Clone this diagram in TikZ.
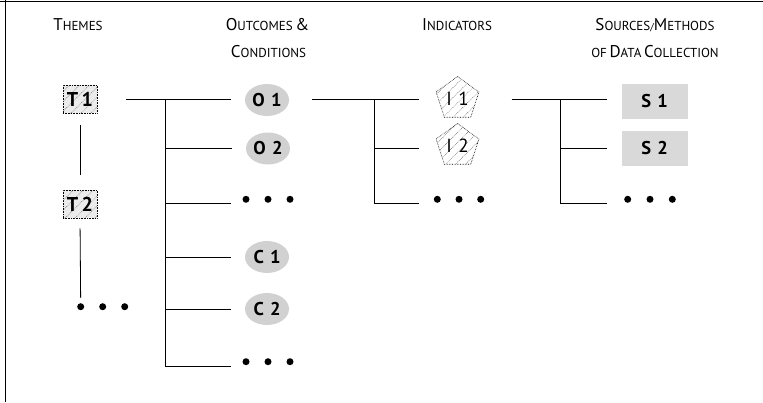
\documentclass[tikz,border=0pt]{standalone}
\usepackage{fontspec}
\setmainfont{PT Sans}
\usetikzlibrary{shapes.geometric,patterns.meta}
\newcommand\HdBig[1]{{\fontsize{17}{17}\selectfont #1}}
\newcommand\HdSm[1]{{\fontsize{13}{13}\selectfont #1}}
\begin{document}
\begin{tikzpicture}[x=1pt,y=-1pt,
  conn/.style={line width=0.8pt},
  frame/.style={line width=1.4pt},
  hdr/.style={inner sep=0pt, anchor=center},
  hatchpat/.style={pattern={Lines[angle=45,distance=7pt,line width=0.5pt]}, pattern color=black!60},
  tbox/.style={draw, densely dotted, line width=0.6pt, fill=black!8, postaction={hatchpat},
    minimum width=34pt, minimum height=28pt, inner sep=0pt, font=\bfseries\fontsize{20}{20}\selectfont},
  oell/.style={ellipse, fill=black!18, minimum width=44pt, minimum height=32pt, inner sep=0pt,
    font=\bfseries\fontsize{18.5}{18.5}\selectfont},
  ipent/.style={regular polygon, regular polygon sides=5, draw, densely dotted, line width=0.6pt,
    minimum size=45pt, inner sep=0pt, postaction={hatchpat}, font=\fontsize{19}{19}\selectfont},
  sbox/.style={fill=black!15, minimum width=66pt, minimum height=35pt, inner sep=0pt,
    font=\bfseries\fontsize{18.5}{18.5}\selectfont},
  bdot/.style={circle, fill=black, minimum size=7pt, inner sep=0pt}
]
\useasboundingbox (0,0) rectangle (763,402);
% frame
\coordinate (f1) at (0,1.2); \coordinate (f2) at (763,1.2);
\coordinate (f3) at (5.5,0); \coordinate (f4) at (5.5,402);
\draw[frame] (f1) -- (f2);
\draw[frame] (f3) -- (f4);

% headers
\node[hdr] (h1) at (78,25) {\HdBig{T}\HdSm{HEMES}};
\node[hdr] (h2a) at (267.5,25) {\HdBig{O}\HdSm{UTCOMES} \HdBig{\&}};
\node[hdr] (h2b) at (268.5,52) {\HdBig{C}\HdSm{ONDITIONS}};
\node[hdr] (h3) at (457,25) {\HdBig{I}\HdSm{NDICATORS}};
\node[hdr] (h4a) at (655,25) {\HdBig{S}\HdSm{OURCES}/\HdBig{M}\HdSm{ETHODS}};
\node[hdr] (h4b) at (655,52) {\HdSm{OF} \HdBig{D}\HdSm{ATA} \HdBig{C}\HdSm{OLLECTION}};

% themes
\node[tbox] (T1) at (80,99) {T\,1};
\node[tbox] (T2) at (80,204) {T\,2};
\node[bdot] (td1) at (80.7,306.7) {};
\node[bdot] (td2) at (102.7,306.7) {};
\node[bdot] (td3) at (124.7,306.7) {};
\draw[conn, shorten <=12pt, shorten >=15pt] (T1.south) -- (T2.north);
\draw[conn, shorten <=10pt, shorten >=5pt] (T2.south) -- (td1.north);

% outcomes & conditions
\node[oell] (O1) at (267,100) {O\,\,1};
\node[oell] (O2) at (268,148.5) {O\,\,2};
\node[bdot] (od1) at (246,199.3) {};
\node[bdot] (od2) at (268,199.3) {};
\node[bdot] (od3) at (290,199.3) {};
\node[oell] (C1) at (267,257) {C\,\,1};
\node[oell] (C2) at (267,309) {C\,\,2};
\node[bdot] (cd1) at (246,361.7) {};
\node[bdot] (cd2) at (268,361.7) {};
\node[bdot] (cd3) at (290,361.7) {};

\coordinate (oj1) at (165,99);
\coordinate (oj6) at (165,366);
\coordinate (oe1) at (230.7,99);
\coordinate (oe3) at (231,203.3);
\coordinate (oe6) at (231,366);
\draw[conn, shorten <=28.7pt] (T1.east) -- (oe1);
\draw[conn] (oj1) -- (oj6);
\draw[conn, shorten >=14pt] (oj1 |- O2.west) -- (O2.west);
\draw[conn] (oj1 |- oe3) -- (oe3);
\draw[conn, shorten >=14pt] (oj1 |- C1.west) -- (C1.west);
\draw[conn, shorten >=14pt] (oj1 |- C2.west) -- (C2.west);
\draw[conn] (oj6) -- (oe6);

% indicators
\node[ipent] (I1) at (457.5,99) {I\,\,1};
\node[ipent] (I2) at (457.5,146) {I\,\,2};
\node[bdot] (id1) at (437.3,199.3) {};
\node[bdot] (id2) at (459,199.3) {};
\node[bdot] (id3) at (480.7,199.3) {};
\coordinate (ie1) at (419.3,99);
\coordinate (ij1) at (374.3,99);
\coordinate (ij3) at (374.3,203.3);
\coordinate (ie2) at (419.3,148.7);
\coordinate (ie3) at (419.3,203.3);
\draw[conn, shorten <=22.7pt] (O1.east |- ie1) -- (ie1);
\draw[conn] (ij1) -- (ij3) -- (ie3);
\draw[conn] (ij1 |- ie2) -- (ie2);

% sources / methods
\node[sbox] (S1) at (654.7,101.5) {S\,\,1};
\node[sbox] (S2) at (654.7,148.3) {S\,\,2};
\node[bdot] (sd1) at (627.7,199.3) {};
\node[bdot] (sd2) at (650,199.3) {};
\node[bdot] (sd3) at (672.3,199.3) {};
\coordinate (ss) at (511.7,99);
\coordinate (se1) at (607.3,99);
\coordinate (sj1) at (560,99);
\coordinate (sj3) at (560,203.3);
\coordinate (se2) at (607.3,148.7);
\coordinate (se3) at (607.3,203.3);
\draw[conn] (ss) -- (se1);
\draw[conn] (sj1) -- (sj3) -- (se3);
\draw[conn] (sj1 |- se2) -- (se2);
\end{tikzpicture}
\end{document}
